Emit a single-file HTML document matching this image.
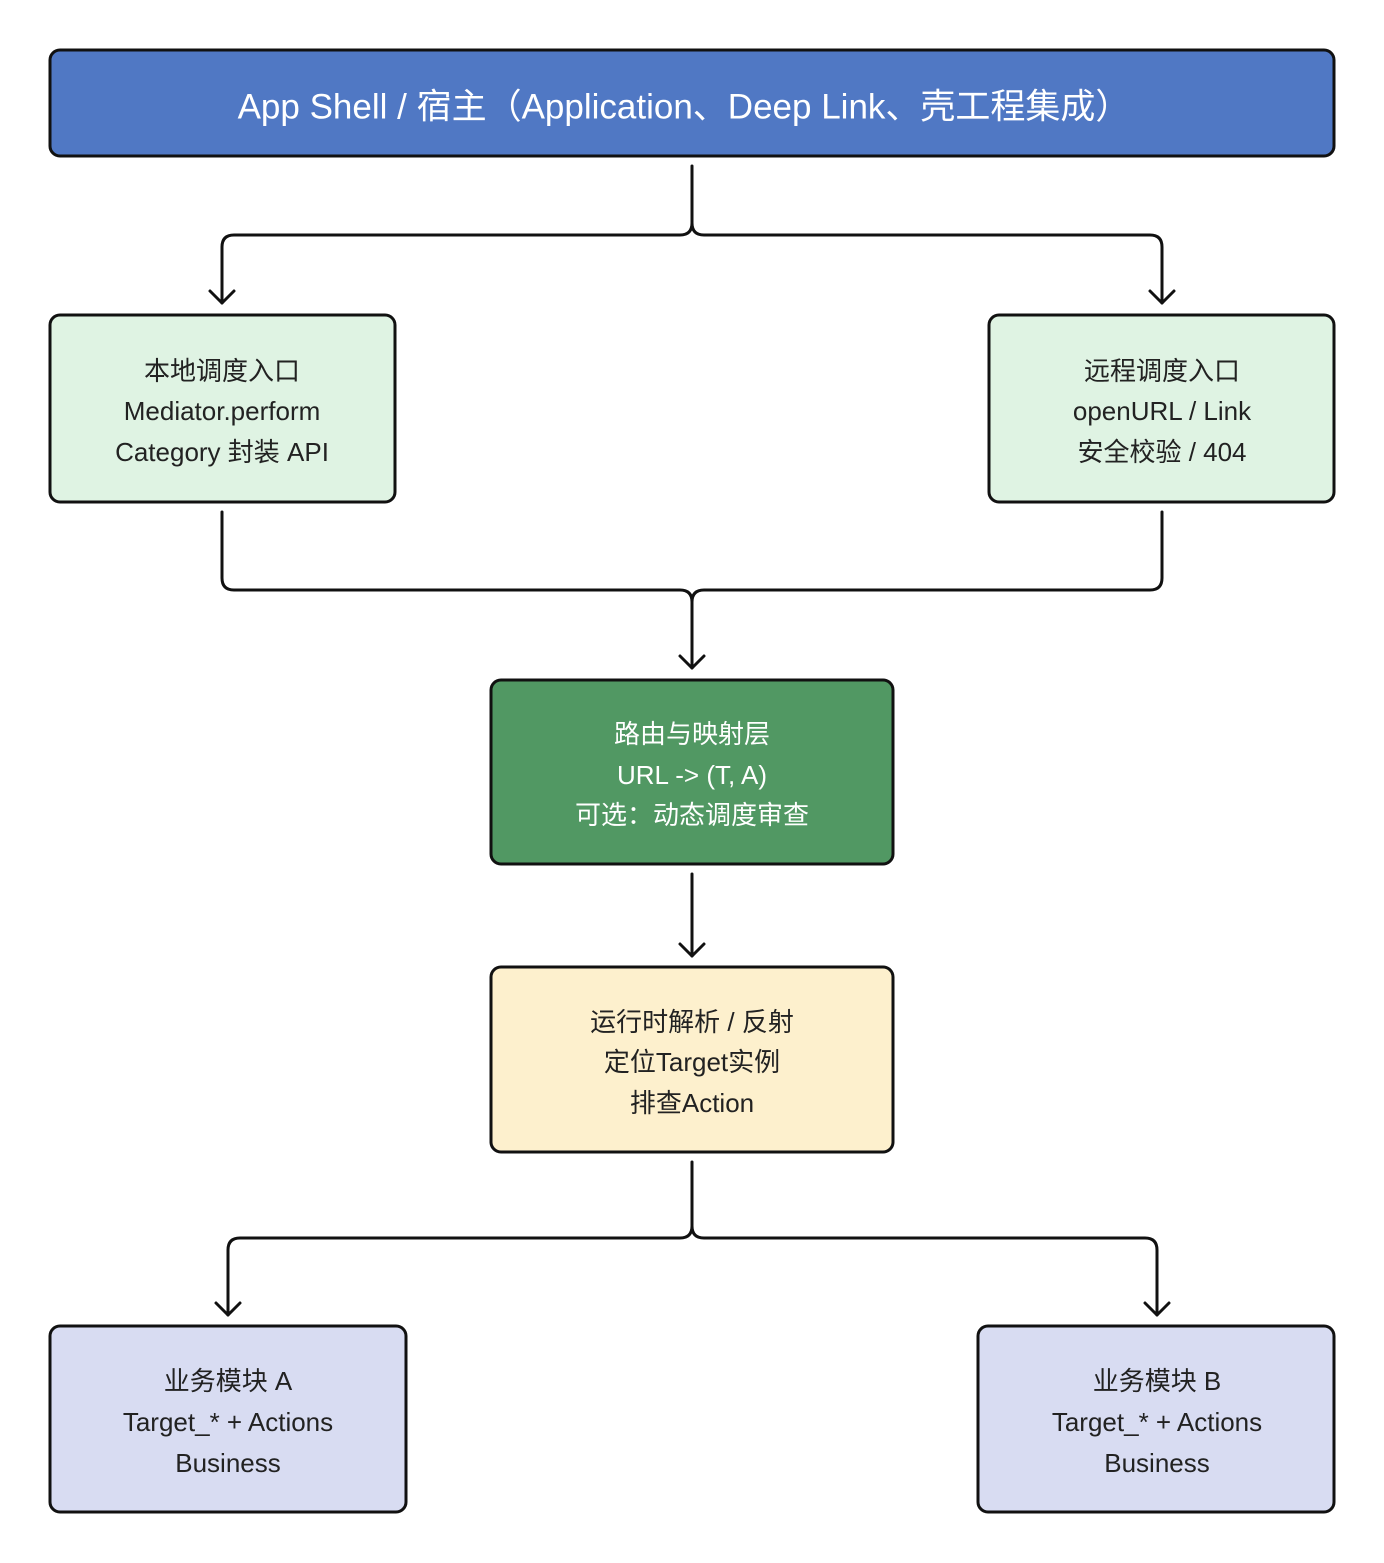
<!DOCTYPE html>
<html><head><meta charset="utf-8"><style>
html,body{margin:0;padding:0;background:#fff;}
svg{display:block;}
text{font-family:"Liberation Sans","Noto Sans CJK SC",sans-serif;text-anchor:middle;dominant-baseline:central;}
</style></head><body>
<svg width="1384" height="1563" viewBox="0 0 1384 1563" xmlns="http://www.w3.org/2000/svg">
<g fill="none" stroke="#111" stroke-width="3" stroke-linecap="round" stroke-linejoin="round">
<path d="M692 166 V223 Q692 235 680 235 H234 Q222 235 222 247 V303"/>
<path d="M692 223 Q692 235 704 235 H1150 Q1162 235 1162 247 V303"/>
<path d="M210 291 L222 303 L234 291"/><path d="M1150 291 L1162 303 L1174 291"/>
<path d="M222 512 V578 Q222 590 234 590 H680 Q692 590 692 602 V668"/>
<path d="M1162 512 V578 Q1162 590 1150 590 H704 Q692 590 692 602"/>
<path d="M680 656 L692 668 L704 656"/>
<path d="M692 874 V956"/><path d="M680 944 L692 956 L704 944"/>
<path d="M692 1162 V1226 Q692 1238 680 1238 H240 Q228 1238 228 1250 V1315"/>
<path d="M692 1226 Q692 1238 704 1238 H1145 Q1157 1238 1157 1250 V1315"/>
<path d="M216 1303 L228 1315 L240 1303"/><path d="M1145 1303 L1157 1315 L1169 1303"/>
</g>
<g stroke="#111" stroke-width="3">
<rect x="50" y="50" width="1284" height="106" rx="10" fill="#5078c4"/>
<rect x="50" y="315" width="345" height="187" rx="10" fill="#dff3e3"/>
<rect x="989" y="315" width="345" height="187" rx="10" fill="#dff3e3"/>
<rect x="491" y="680" width="402" height="184" rx="10" fill="#519863"/>
<rect x="491" y="967" width="402" height="185" rx="10" fill="#fdf0cd"/>
<rect x="50" y="1326" width="356" height="186" rx="10" fill="#d8dcf2"/>
<rect x="978" y="1326" width="356" height="186" rx="10" fill="#d8dcf2"/>
</g>
<text x="684" y="107" fill="#fff" font-size="35">App Shell / 宿主（Application、Deep Link、壳工程集成）</text>
<g font-size="26" fill="#222">
<text x="222" y="371">本地调度入口</text><text x="222" y="411">Mediator.perform</text><text x="222" y="452">Category 封装 API</text>
<text x="1162" y="371">远程调度入口</text><text x="1162" y="411">openURL / Link</text><text x="1162" y="452">安全校验 / 404</text>
<g fill="#fff"><text x="692" y="734">路由与映射层</text><text x="692" y="775">URL -&gt; (T, A)</text><text x="692" y="815">可选：动态调度审查</text></g>
<text x="692" y="1022">运行时解析 / 反射</text><text x="692" y="1062">定位Target实例</text><text x="692" y="1103">排查Action</text>
<text x="228" y="1381">业务模块 A</text><text x="228" y="1422">Target_* + Actions</text><text x="228" y="1463">Business</text>
<text x="1157" y="1381">业务模块 B</text><text x="1157" y="1422">Target_* + Actions</text><text x="1157" y="1463">Business</text>
</g>
</svg>
</body></html>
